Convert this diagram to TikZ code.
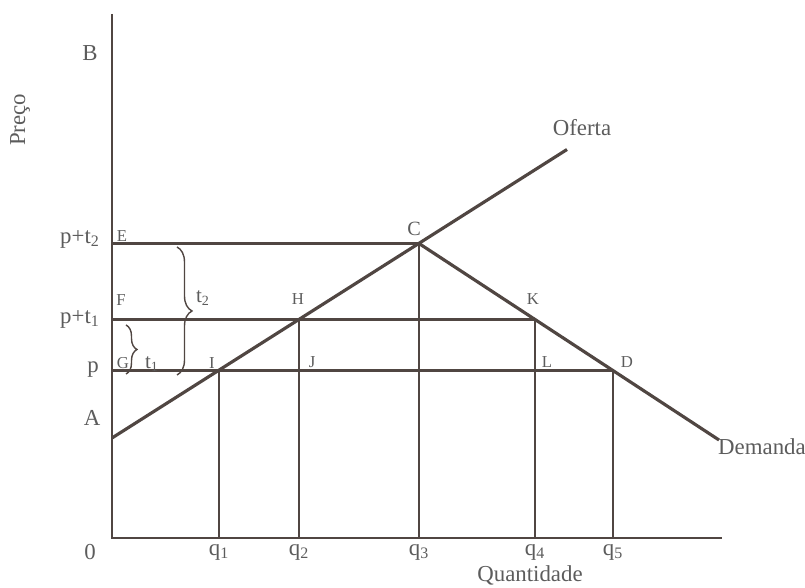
\documentclass[tikz,border=0pt]{standalone}
\usepackage{fontspec}
\setmainfont{Liberation Serif}
\usepackage{xcolor}
\usetikzlibrary{
  positioning,
  calc,
  decorations.pathreplacing
}
\definecolor{linecol}{RGB}{80,70,66}
\definecolor{txtcol}{RGB}{92,92,92}
\tikzset{
  axisline/.style={draw=linecol,line width=1.1pt},
  curve/.style={draw=linecol,line width=1.8pt},
  level/.style={draw=linecol,line width=1.8pt},
  drop/.style={draw=linecol,line width=1.2pt},
  bracket/.style={draw=linecol,line width=0.8pt,decorate,decoration={brace,amplitude=0.3cm}},
  ptlabel/.style={text=txtcol,font=\fontsize{9.5}{10}\selectfont,inner sep=0pt},
  axlabel/.style={text=txtcol,font=\fontsize{13}{15}\selectfont,inner sep=0pt}
}

\begin{document}
\begin{tikzpicture}
    \useasboundingbox (-2.24,-1.0) rectangle (13.86,10.76);

    % Ejes
    \coordinate (O) at (0,0);
    \coordinate (ytop) at (0,10.48);
    \coordinate (xend) at (12.2,0);
    \draw[axisline] (ytop) -- (O) -- (xend);

    % Puntos
    \coordinate (A) at (0,2.0);
    \coordinate (E) at (0,5.89);
    \coordinate (F) at (0,4.37);
    \coordinate (G) at (0,3.35);
    \coordinate (C) at (6.14,5.89);
    \coordinate (H) at (3.74,4.37);
    \coordinate (I) at (2.14,3.35);
    \coordinate (K) at (8.46,4.37);
    \coordinate (D) at (10.02,3.35);
    \coordinate (ofend) at (9.1,7.77);
    \coordinate (demend) at (12.14,1.96);
    \coordinate (q1) at (2.14,0);
    \coordinate (q2) at (3.74,0);
    \coordinate (q3) at (6.14,0);
    \coordinate (q4) at (8.46,0);
    \coordinate (q5) at (10.02,0);

    % Niveles de precio
    \draw[level] (E) -- (C);
    \draw[level] (F) -- (K);
    \draw[level] (G) -- (D);

    % Verticales
    \foreach \a/\b in {I/q1,H/q2,C/q3,K/q4,D/q5} \draw[drop] (\a) -- (\b);

    % Oferta y demanda
    \draw[curve] (A) -- (ofend);
    \draw[curve] (C) -- (demend);

    % Llaves
    \coordinate (t2top) at (1.3,5.82);
    \coordinate (t2bot) at (1.3,3.26);
    \coordinate (t1top) at (0.28,4.26);
    \coordinate (t1bot) at (0.28,3.28);
    \draw[bracket] (t2top) -- (t2bot);
    \draw[bracket,decoration={amplitude=0.22cm}] (t1top) -- (t1bot);

    % Letras de los puntos
    \node[ptlabel] (lE) at (0.2,6.04) {E};
    \node[ptlabel] (lF) at (0.18,4.76) {F};
    \node[ptlabel] (lG) at (0.22,3.5) {G};
    \node[ptlabel] (lI) at (2.0,3.5) {I};
    \node[ptlabel] (lH) at (3.72,4.78) {H};
    \node[ptlabel] (lJ) at (4.0,3.52) {J};
    \node[ptlabel,font=\fontsize{11.5}{12}\selectfont] (lC) at (6.04,6.18) {C};
    \node[ptlabel] (lK) at (8.42,4.78) {K};
    \node[ptlabel] (lL) at (8.7,3.52) {L};
    \node[ptlabel] (lD) at (10.3,3.52) {D};

    % Rótulos de los ejes
    \node[axlabel] (lpt2) at (-0.64,5.98) {p+t\textsubscript{2}};
    \node[axlabel] (lpt1) at (-0.64,4.38) {p+t\textsubscript{1}};
    \node[axlabel] (lp) at (-0.38,3.36) {p};
    \node[axlabel] (lA) at (-0.4,2.4) {A};
    \node[axlabel] (lB) at (-0.44,9.7) {B};
    \node[axlabel,rotate=90] (preco) at (-1.84,8.36) {Preço};
    \node[axlabel] (l0) at (-0.44,-0.28) {0};
    \node[axlabel] (lq1) at (2.14,-0.28) {q\textsubscript{1}};
    \node[axlabel] (lq2) at (3.74,-0.28) {q\textsubscript{2}};
    \node[axlabel] (lq3) at (6.14,-0.28) {q\textsubscript{3}};
    \node[axlabel] (lq4) at (8.46,-0.28) {q\textsubscript{4}};
    \node[axlabel] (lq5) at (10.02,-0.28) {q\textsubscript{5}};
    \node[axlabel] (quant) at (8.36,-0.74) {Quantidade};
    \node[axlabel] (oferta) at (9.4,8.2) {Oferta};
    \node[axlabel] (demanda) at (13.0,1.82) {Demanda};
    \node[axlabel,font=\fontsize{12}{14}\selectfont] (lt2) at (1.82,4.8) {t\textsubscript{2}};
    \node[axlabel,font=\fontsize{12}{14}\selectfont] (lt1) at (0.8,3.48) {t\textsubscript{1}};
\end{tikzpicture}
\end{document}
